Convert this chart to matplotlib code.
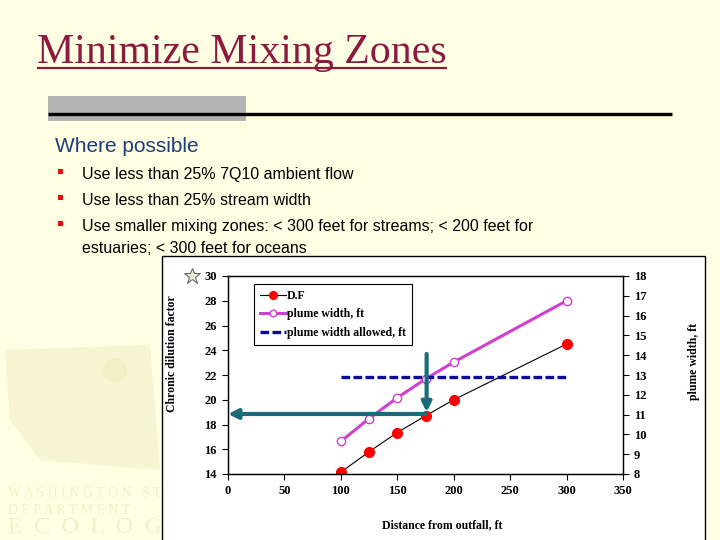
import matplotlib
matplotlib.use('Agg')
import matplotlib.pyplot as plt
import matplotlib.patches as mpatches

# ---------------------------------------------------------------------------
# Data
# ---------------------------------------------------------------------------
distance      = [100, 125, 150, 175, 200, 300]
dilution      = [14.15, 15.8, 17.35, 18.7, 20.0, 24.5]
plume_width   = [9.65, 10.8, 11.85, 12.8, 13.65, 16.75]
plume_allowed = [12.9, 12.9, 12.9, 12.9, 12.9, 12.9]

x_ticks     = [0, 50, 100, 150, 200, 250, 300, 350]
left_ticks  = [14, 16, 18, 20, 22, 24, 26, 28, 30]
right_ticks = [8, 9, 10, 11, 12, 13, 14, 15, 16, 17, 18]

series_labels = ['D.F', 'plume width, ft', 'plume width allowed, ft']

title   = 'Minimize Mixing Zones'
heading = 'Where possible'
bullets = [
    ('Use less than 25% 7Q10 ambient flow', True),
    ('Use less than 25% stream width', True),
    ('Use smaller mixing zones: < 300 feet for streams; < 200 feet for', True),
    ('estuaries; < 300 feet for oceans', False),
]

# arrow showing the dilution reached at the allowed plume width
ARROW_X   = 175
ARROW_TOP = 23.7

# ---------------------------------------------------------------------------
# Styling
# ---------------------------------------------------------------------------
SLIDE_BG  = '#FFFFE3'
MAROON    = '#8C1A3E'
NAVY_TXT  = '#1F3D7A'
MAGENTA   = '#D03FD0'
DASH_BLUE = '#0A0A9A'
TEAL      = '#1B6C78'
WATERMARK = '#F7F4D3'
SERIF     = 'Liberation Serif'
SANS      = 'Liberation Sans'

fig = plt.figure(figsize=(7.2, 5.4), dpi=100)
fig.patch.set_facecolor(SLIDE_BG)

# background layer in pixel coordinates (y down)
bg = fig.add_axes([0, 0, 1, 1])
bg.set_xlim(0, 720)
bg.set_ylim(540, 0)
bg.axis('off')

# title with underline
bg.text(37, 63, title, fontsize=30.2, family=SERIF, color=MAROON, va='baseline')
bg.plot([37, 447], [68, 68], color=MAROON, lw=1.6, solid_capstyle='butt')

# grey bar + rule
bg.add_patch(mpatches.Rectangle((48, 96), 198, 25, facecolor='#B3B3B3', lw=0))
bg.plot([48, 672], [114, 114], color='black', lw=2.4, solid_capstyle='butt')

bg.text(55, 152, heading, fontsize=15, family=SANS, color=NAVY_TXT, va='baseline')

for i, (line, has_bullet) in enumerate(bullets):
    base = [179, 205, 231, 253][i]
    if has_bullet:
        bg.add_patch(mpatches.Rectangle((58, base - 10), 5, 5,
                                        facecolor='#E01010', lw=0))
    bg.text(82, base, line, fontsize=11.5, family=SANS, color='black',
            va='baseline')

# faint agency logo watermark
bg.add_patch(mpatches.Polygon([(5, 350), (150, 345), (160, 470), (40, 460),
                               (10, 420)], facecolor=WATERMARK, lw=0))
bg.add_patch(mpatches.Circle((115, 370), 12, facecolor='#F2EFC4', lw=0))
bg.text(8, 497, 'W A S H I N G T O N   S T', fontsize=10, family=SERIF,
        color='#F2EFC8')
bg.text(8, 514, 'D E P A R T M E N T', fontsize=10, family=SERIF,
        color='#F2EFC8')
bg.text(8, 533, 'E  C  O  L  O  G', fontsize=17, family=SERIF,
        color='#F2EFC8')

# white chart panel
bg.add_patch(mpatches.Rectangle((162, 256), 543, 300, facecolor='white',
                                edgecolor='black', lw=1.0))
bg.plot(192, 276, marker='*', ms=12, mfc='#ECECD8', mec='#666666', mew=0.8)

# ---------------------------------------------------------------------------
# Chart
# ---------------------------------------------------------------------------
ax = fig.add_axes([228 / 720, 1 - 474 / 540, 395 / 720, 198 / 540])
ax.set_facecolor('white')
ax2 = ax.twinx()

l1, = ax.plot(distance, dilution, color='black', lw=0.8, marker='o',
              ms=7, mfc='#FF0000', mec='#FF0000')
l2, = ax2.plot(distance, plume_width, color=MAGENTA, lw=2.2, marker='o',
               ms=6, mfc='white', mec=MAGENTA, mew=1.0)
l3, = ax2.plot(distance, plume_allowed, color=DASH_BLUE, lw=2.4,
               dashes=(2.6, 1.0))

ax.set_xlim(0, 350)
ax.set_ylim(14, 30)
ax2.set_ylim(8, 18)
ax.set_xticks(x_ticks)
ax.set_yticks(left_ticks)
ax2.set_yticks(right_ticks)

tick_font = dict(family=SERIF, weight='bold', size=9)
for a in (ax, ax2):
    a.tick_params(direction='out', length=4, width=0.8, pad=4)
    for lab in a.get_xticklabels() + a.get_yticklabels():
        lab.set_fontproperties(tick_font)
    for sp in a.spines.values():
        sp.set_linewidth(0.9)

label_font = dict(family=SERIF, weight='bold', size=8.5)
ax.set_xlabel('Distance from outfall, ft', **label_font)
ax.set_ylabel('Chronic dilution factor', **label_font)
ax2.set_ylabel('plume width, ft', rotation=90, **label_font)
ax.xaxis.set_label_coords(0.542, -0.227)
ax.yaxis.set_label_coords(-0.127, 0.606)
ax2.yaxis.set_label_coords(1.165, 0.566)

# arrows (drawn on top, in left-axis data coordinates)
arrow_y = dilution[distance.index(ARROW_X)]
arrow_kw = dict(arrowstyle='-|>', color=TEAL, lw=3, mutation_scale=14,
                shrinkA=0, shrinkB=0)
ax2.annotate('', xy=(0, arrow_y + 0.15), xytext=(ARROW_X, arrow_y + 0.15),
             xycoords=ax.transData, textcoords=ax.transData,
             arrowprops=arrow_kw, annotation_clip=False)
ax2.annotate('', xy=(ARROW_X + 1, arrow_y + 0.3), xytext=(ARROW_X + 1, ARROW_TOP),
             xycoords=ax.transData, textcoords=ax.transData,
             arrowprops=arrow_kw)

leg = ax2.legend([l1, l2, l3], series_labels, loc='upper left',
                 bbox_to_anchor=(0.066, 0.96), borderaxespad=0,
                 fancybox=False, framealpha=1, edgecolor='black',
                 handlelength=2.2, handletextpad=0.1, labelspacing=0.55,
                 borderpad=0.5, markerscale=0.8,
                 prop=dict(family=SERIF, weight='bold', size=8.5))
leg.get_frame().set_linewidth(0.8)

fig.savefig('out.png', dpi=100, facecolor=fig.get_facecolor())
